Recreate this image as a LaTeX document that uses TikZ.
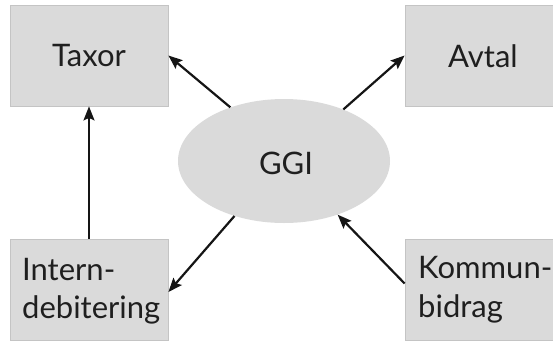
\documentclass[tikz,border=0pt]{standalone}
\usepackage{fontspec}
\setmainfont{Lato}
\usetikzlibrary{shapes.geometric,arrows.meta}
\definecolor{boxfill}{HTML}{DADADA}
\definecolor{boxline}{HTML}{C4C4C4}
\definecolor{arrowcol}{HTML}{151515}
\tikzset{
  box/.style={draw=boxline, line width=0.8pt, fill=boxfill, minimum width=#1, minimum height=101pt, inner sep=0pt},
  lbl/.style={font=\fontsize{31}{38}\selectfont, text=black!88, inner sep=0pt},
  conn/.style={draw=arrowcol, line width=2.2pt, -{Stealth[length=14pt,width=11pt,inset=2.5pt]}},
}
\begin{document}
\begin{tikzpicture}[x=1pt,y=-1pt]
\useasboundingbox (0,0) rectangle (553,340);
\node[box=158pt] (taxor) at (89,55.5) {};
\node[box=158pt] (avtal) at (484,55.5) {};
\node[box=158pt] (intern) at (89,289.5) {};
\node[box=158pt] (kommun) at (484,289.5) {};
\node[ellipse, fill=boxfill, minimum width=212pt, minimum height=124pt, inner sep=0pt] (ggi) at (284,161) {};
\node[lbl] (taxortxt) at (89,56) {Taxor};
\node[lbl] (avtaltxt) at (483,56) {Avtal};
\node[lbl] (ggitxt) at (286,163) {GGI};
\node[lbl, anchor=base west] (intern1) at (22,280) {Intern-};
\node[lbl, anchor=base west] (intern2) at (22,318) {debitering};
\node[lbl, anchor=base west] (kommun1) at (418,278) {Kommun-};
\node[lbl, anchor=base west] (kommun2) at (418,317) {bidrag};
\draw[conn] (ggi.135) -- (taxor.east);
\draw[conn] (ggi.41) -- (avtal.west);
\draw[conn] (intern.north) -- (taxor.south);
\draw[conn] (ggi.228) -- ([yshift=-2.5pt]intern.east);
\draw[conn] ([yshift=6pt]kommun.west) -- (ggi.315);
\end{tikzpicture}
\end{document}
